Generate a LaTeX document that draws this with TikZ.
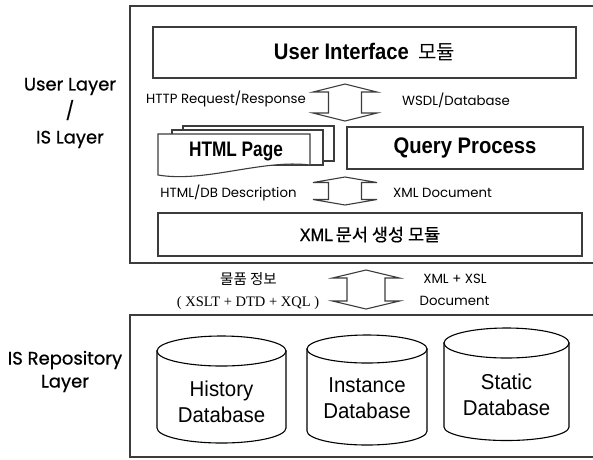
\documentclass[tikz,border=0pt]{standalone}
\usepackage{fontspec}
\setmainfont{Poppins}
\newfontfamily\sidefont[FakeBold=0.6]{Poppins}
\newfontfamily\hfont[FakeStretch=0.82]{Liberation Sans}
\newfontfamily\hfontw[FakeStretch=0.9]{Liberation Sans}
\newfontfamily\xmlfont[FakeStretch=0.9,FakeBold=0.8]{Liberation Sans}
\newfontfamily\dbfont[FakeStretch=0.95]{Liberation Sans}
\newfontfamily\kr{Noto Sans CJK KR}
\newfontfamily\krb[FakeBold=0.6]{Noto Sans CJK KR}
\newfontfamily\sr{Liberation Serif}
\definecolor{ln}{HTML}{3C3C3C}
\newcommand{\udarrow}[6]{% cx, ytop, ybot, head half width, shaft half width, head depth
  \filldraw[arr] (#1,#2) -- (#1+#4,#2+#6) -- (#1+#5,#2+#6) -- (#1+#5,#3-#6) -- (#1+#4,#3-#6)
    -- (#1,#3) -- (#1-#4,#3-#6) -- (#1-#5,#3-#6) -- (#1-#5,#2+#6) -- (#1-#4,#2+#6) -- cycle;}
\begin{document}
\begin{tikzpicture}[x=1pt,y=-1pt,
  outer/.style={draw=ln,line width=1.5pt},
  box/.style={draw=ln,line width=1.3pt,fill=white,inner sep=0pt},
  page/.style={draw=ln,line width=1.1pt,fill=white},
  arr/.style={draw=ln,line width=1.1pt,fill=white,line join=miter},
  cyl/.style={draw=black,line width=1.1pt,fill=white},
  lbl/.style={font=\fontsize{13.3}{15}\selectfont,inner sep=0pt},
  side/.style={font=\sidefont\fontsize{18}{26.5}\selectfont,align=center,inner sep=0pt},
  head/.style={font=\hfont\bfseries\fontsize{21}{24}\selectfont,inner sep=0pt},
  headw/.style={font=\hfontw\bfseries\fontsize{22.5}{24}\selectfont,inner sep=0pt},
  dbtxt/.style={font=\dbfont\fontsize{21.5}{26}\selectfont,align=center,inner sep=0pt}]
\useasboundingbox (0,0) rectangle (593,459);
\fill[white] (0,0) rectangle (593,459);
% outer layer frames (open to the right)
\draw[outer] (593,6) -- (130,6) -- (130,263) -- (593,263);
\draw[outer] (593,315) -- (130,315) -- (130,457) -- (593,457);
% left labels
\node[side] (ul) at (70,113) {User Layer\\/\\IS Layer};
\node[side,font=\sidefont\fontsize{18}{23}\selectfont] (rl) at (65,371.5) {IS Repository\\Layer};
% boxes
\node[box,minimum width=423pt,minimum height=51pt] (ui) at (364.5,52.5) {};
\node[headw] at (ui.center) {User Interface\ \,{\kr\mdseries\fontsize{20}{24}\selectfont 모듈}};
\node[box,minimum width=236pt,minimum height=42pt] (qp) at (465,148) {};
\node[headw] at (qp.center) {Query Process};
\node[box,minimum width=424pt,minimum height=43pt] (xb) at (370,234.5) {};
\node[inner sep=0pt] at (xb.center) {{\xmlfont\fontsize{18}{20}\selectfont XML}\ {\krb\fontsize{17.5}{20}\selectfont 문서 생성 모듈}};
% HTML page stack
\draw[page] (183,126) rectangle (334,161);
\draw[page] (172,130) rectangle (323,165);
\filldraw[page] (158,134) -- (310,134) -- (310,165) .. controls (262,159) and (205,183) .. (158,175) -- cycle;
\node[head] (html) at (236,151) {HTML Page};
% double arrows
\udarrow{345}{84}{121}{32}{16.5}{8}
\udarrow{345}{177}{205}{32}{16.5}{5.5}
\udarrow{366}{270}{309}{33.5}{19}{8}
% arrow labels
\node[lbl] (l1) at (226,99) {HTTP Request/Response};
\node[lbl] (l2) at (456,100) {WSDL/Database};
\node[lbl] (l3) at (228.5,193) {HTML/DB Description};
\node[lbl] (l4) at (442.5,193) {XML Document};
\node[inner sep=0pt,font=\kr\fontsize{14.5}{16}\selectfont] (l5) at (248.5,279) {물품 정보};
\node[inner sep=0pt,font=\sr\fontsize{14.5}{16}\selectfont] (l6) at (248,303) {( XSLT + DTD + XQL )};
\node[lbl] (l7) at (455,279) {XML + XSL};
\node[lbl] (l8) at (454.5,301) {Document};
% cylinders
\filldraw[cyl] (157,351) -- (157,428) arc[start angle=180,end angle=0,x radius=64.5,y radius=15] -- (286,351) -- cycle;
\draw[cyl] (221.5,351) ellipse[x radius=64.5,y radius=15];
\node[dbtxt] (hist) at (221.5,402) {History\\Database};
\filldraw[cyl] (307,349) -- (307,431) arc[start angle=180,end angle=0,x radius=60,y radius=14] -- (427,349) -- cycle;
\draw[cyl] (367,349) ellipse[x radius=60,y radius=14];
\node[dbtxt] (inst) at (367,398.5) {Instance\\Database};
\filldraw[cyl] (444,343) -- (444,427) arc[start angle=180,end angle=0,x radius=62.5,y radius=13.5] -- (569,343) -- cycle;
\draw[cyl] (506.5,343) ellipse[x radius=62.5,y radius=15];
\node[dbtxt] (stat) at (506.5,395) {Static\\Database};
\end{tikzpicture}
\end{document}
